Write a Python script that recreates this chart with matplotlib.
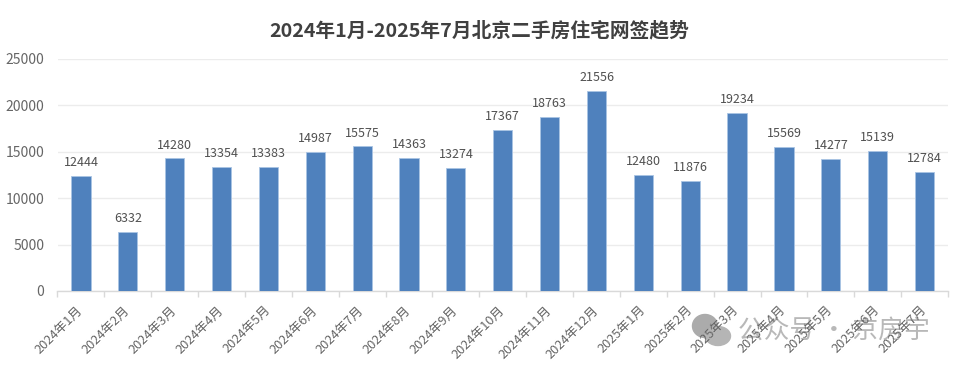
import matplotlib.pyplot as plt
from matplotlib.patches import Ellipse

plt.rcParams['font.family'] = ['Noto Sans CJK SC', 'DejaVu Sans']

months = ["2024年1月", "2024年2月", "2024年3月", "2024年4月", "2024年5月", "2024年6月", "2024年7月",
          "2024年8月", "2024年9月", "2024年10月", "2024年11月", "2024年12月", "2025年1月", "2025年2月",
          "2025年3月", "2025年4月", "2025年5月", "2025年6月", "2025年7月"]
values = [12444, 6332, 14280, 13354, 13383, 14987, 15575, 14363, 13274, 17367,
          18763, 21556, 12480, 11876, 19234, 15569, 14277, 15139, 12784]
yticks = [0, 5000, 10000, 15000, 20000, 25000]
title = "2024年1月-2025年7月北京二手房住宅网签趋势"
watermark = "公众号 · 京房宇"

W, H = 960, 371
fig = plt.figure(figsize=(W / 100, H / 100), dpi=100)
ax = fig.add_axes([57.5 / W, 1 - 291 / H, (948 - 57.5) / W, (291 - 59) / H])
ax.patch.set_visible(False)

x = range(len(months))
ax.bar(x, values, width=0.41, color="#4f81bd", edgecolor="#a9c4e4", linewidth=0.6, zorder=3)
for i, v in zip(x, values):
    ax.annotate(str(v), (i, v), xytext=(0, 5), textcoords="offset points",
                ha="center", va="bottom", fontsize=9, color="#505050", zorder=4)

ax.set_xlim(-0.5, len(months) - 0.5)
ax.set_ylim(0, 25000)
ax.set_yticks(yticks)
ax.tick_params(axis="y", length=0, labelsize=10, labelcolor="#666666", pad=9.5)
ax.grid(axis="y", color="#ececec", linewidth=1, zorder=0)
ax.set_axisbelow(True)

# 刻度在柱子之间
ax.set_xticks([i - 0.5 for i in range(len(months) + 1)])
ax.set_xticklabels([])
ax.tick_params(axis="x", length=4, width=1, color="#d9d9d9")
for i, m in enumerate(months):
    ax.annotate(m, (i, 0), xycoords=("data", "axes fraction"), xytext=(-3.5, -9),
                textcoords="offset points", rotation=45, rotation_mode="anchor",
                ha="right", va="top", fontsize=9.2, color="#666666")

for s in ["top", "right", "left"]:
    ax.spines[s].set_visible(False)
ax.spines["bottom"].set_color("#d9d9d9")
ax.spines["bottom"].set_linewidth(1)

fig.text(479 / W, 1 - 31 / H, title, ha="center", va="center", fontsize=14.2,
         fontweight="bold", color="#404040")

# 水印放在标签下面
wm = fig.add_axes([0, 0, 1, 1], facecolor="none")
wm.set_zorder(-1)
wm.set_xlim(0, W)
wm.set_ylim(H, 0)
wm.axis("off")
wm.text(738, 332, watermark, ha="left", va="center", fontsize=18.5, color="#b8b8b8")
wm.add_patch(Ellipse((705, 326), 25, 23, color="#ababab"))
wm.add_patch(Ellipse((718, 336), 25, 19, color="#b5b5b5"))

fig.savefig("out.png", dpi=100)
